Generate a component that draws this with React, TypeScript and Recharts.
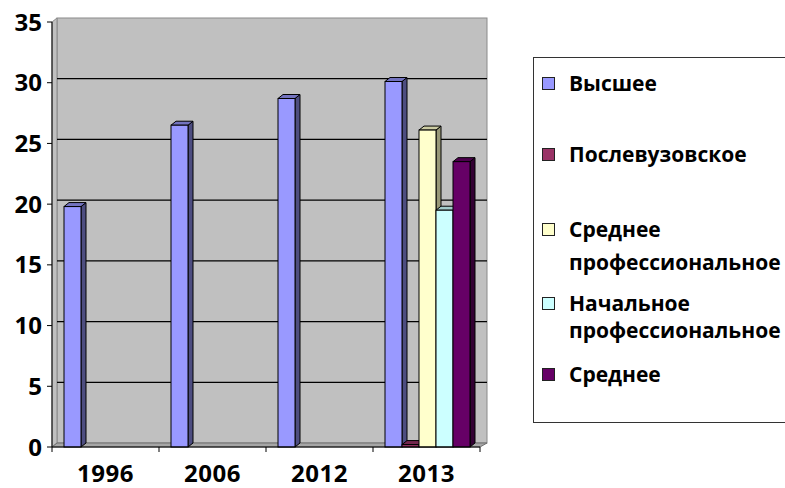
import { Bar, BarChart, CartesianGrid, Legend, XAxis, YAxis } from 'recharts';

const years = ['1996', '2006', '2012', '2013'];
const higher = [19.8, 26.5, 28.7, 30.1];
const postgrad = [null, null, null, 0.2];
const secondaryProf = [null, null, null, 26.1];
const primaryProf = [null, null, null, 19.5];
const secondary = [null, null, null, 23.5];
const yTicks = [0, 5, 10, 15, 20, 25, 30, 35];

const series = [
    { key: 'higher', name: 'Высшее', color: '#9999FF', side: '#4D4D80', top: '#7373BF', values: higher },
    { key: 'postgrad', name: 'Послевузовское', color: '#993366', side: '#4D1A33', top: '#73264D', values: postgrad },
    { key: 'secondaryProf', name: 'Среднее профессиональное', color: '#FFFFCC', side: '#999978', top: '#CCCCA3', values: secondaryProf },
    { key: 'primaryProf', name: 'Начальное профессиональное', color: '#CCFFFF', side: '#7A9999', top: '#A3CCCC', values: primaryProf },
    { key: 'secondary', name: 'Среднее', color: '#660066', side: '#330033', top: '#4D004D', values: secondary },
];

// legend rows: first-line centre inside the box and line spacing
const legendRows = [
    { top: 25, gap: 0 },
    { top: 96, gap: 0 },
    { top: 171, gap: 33 },
    { top: 245, gap: 27 },
    { top: 316, gap: 0 },
];

const data = years.map((year, i) => {
    const row: any = { year };
    series.forEach(s => { row[s.key] = s.values[i]; });
    return row;
});

const DX = 5;
const DY = 4;

function Bar3D(props: any) {
    const { x, y, width, height, color, side, top } = props;
    if (x == null || width == null || height == null || !isFinite(height)) return null;
    const b = y + height;
    return <g>
        <polygon points={`${x + width},${y} ${x + width + DX},${y - DY} ${x + width + DX},${b - DY} ${x + width},${b}`} fill={side} stroke="#000" strokeWidth={1} />
        <polygon points={`${x},${y} ${x + DX},${y - DY} ${x + width + DX},${y - DY} ${x + width},${y}`} fill={top} stroke="#000" strokeWidth={1} />
        <rect x={x} y={y} width={width} height={height} fill={color} stroke="#000" strokeWidth={1} />
    </g>
}

// back wall, side wall and floor, drawn once from the top grid line
function Walls(props: any) {
    const { y1, x, y, width, height } = props;
    if (Math.abs(y1 - y) > 1) return <g key={props.key} />;
    const b = y + height;
    const r = x + width;
    return <g key={props.key}>
        <rect x={x + DX} y={y - DY} width={width + 2} height={height} fill="#C0C0C0" stroke="#8a8a8a" strokeWidth={1} />
        <polygon points={`${x},${y} ${x + DX},${y - DY} ${x + DX},${b - DY} ${x},${b}`} fill="#C0C0C0" stroke="#8a8a8a" strokeWidth={1} />
        <polygon points={`${x},${b} ${x + DX},${b - DY} ${r + DX + 2},${b - DY} ${r},${b}`} fill="#A6A6A6" stroke="#6e6e6e" strokeWidth={1} />
    </g>
}

function GridLine(props: any) {
    const { x1, x2, y1, y, height } = props;
    const edge = Math.abs(y1 - y) < 1 || Math.abs(y1 - (y + height)) < 1;
    if (edge) return <g key={props.key} />;
    return <line key={props.key} x1={x1 + DX} x2={x2 + DX + 2} y1={y1 - DY} y2={y1 - DY} stroke="#000" strokeWidth={1.3} />
}

function YearTick(props: any) {
    const { x, y, payload, index } = props;
    const half = payload?.offset ?? 0;
    const axisY = y - 18;
    return <g>
        <line x1={x - half} x2={x - half} y1={axisY} y2={axisY + 5} stroke="#000" />
        {index === years.length - 1 && <line x1={x + half} x2={x + half} y1={axisY} y2={axisY + 5} stroke="#000" />}
        <text x={x} y={y} dy="0.71em" textAnchor="middle" fontSize={24} fontWeight={700} letterSpacing={0.5} fill="#000">{payload.value}</text>
    </g>
}

function ValueTick(props: any) {
    const { x, y, payload } = props;
    return <text x={x} y={y} dy="0.355em" textAnchor="end" fontSize={24} fontWeight={700} fill="#000">{payload.value}</text>
}

function LegendBox() {
    return <div style={{ position: 'relative', width: 252, height: 366, overflow: 'hidden' }}>
        <div style={{ position: 'absolute', left: 0, top: 0, width: 320, height: 366, borderTop: '1.5px solid #333', borderLeft: '1.5px solid #333', borderBottom: '1.5px solid #333', background: '#fff', boxSizing: 'border-box', fontFamily: '"Open Sans", sans-serif', fontWeight: 700, fontSize: 21, color: '#000' }}>
            {series.map((s, i) => {
                const row = legendRows[i];
                const lines = s.name.split(' ');
                return <div key={s.key}>
                    <div style={{ position: 'absolute', left: 8, top: row.top - 6, width: 11, height: 11, background: s.color, border: '1px solid #222' }} />
                    {lines.map((line, j) => <div key={j} style={{ position: 'absolute', left: 35, top: row.top + j * row.gap - 15, lineHeight: '30px', height: 30, whiteSpace: 'nowrap' }}>{line}</div>)}
                </div>
            })}
        </div>
    </div>
}

export default function App() {
    return <div style={{ position: 'absolute', left: 0, top: 0, width: 785, height: 488, overflow: 'hidden', background: '#fff', fontFamily: '"Open Sans", sans-serif' }}>
        <BarChart width={785} height={488} data={data} margin={{ top: 22, right: 305, bottom: 0, left: 0 }} barCategoryGap={12} barGap={0}>
            <CartesianGrid vertical={false} horizontal={Walls} />
            <CartesianGrid vertical={false} horizontal={GridLine} />
            <XAxis dataKey="year" height={41} tickSize={0} tickMargin={18} tickLine={false} axisLine={{ stroke: '#000' }} tick={YearTick} interval={0} />
            <YAxis width={52} domain={[0, 35]} ticks={yTicks} interval={0} tickSize={5} tickMargin={5} axisLine={{ stroke: '#000' }} tickLine={{ stroke: '#000' }} tick={ValueTick} />
            <Legend layout="vertical" align="center" verticalAlign="middle" content={() => <LegendBox />} wrapperStyle={{ left: 533, top: 57, width: 252, height: 366 }} />
            {series.map(s => <Bar key={s.key} dataKey={s.key} name={s.name} fill={s.color} isAnimationActive={false} shape={(p: any) => <Bar3D {...p} color={s.color} side={s.side} top={s.top} />} />)}
        </BarChart>
    </div>
}
